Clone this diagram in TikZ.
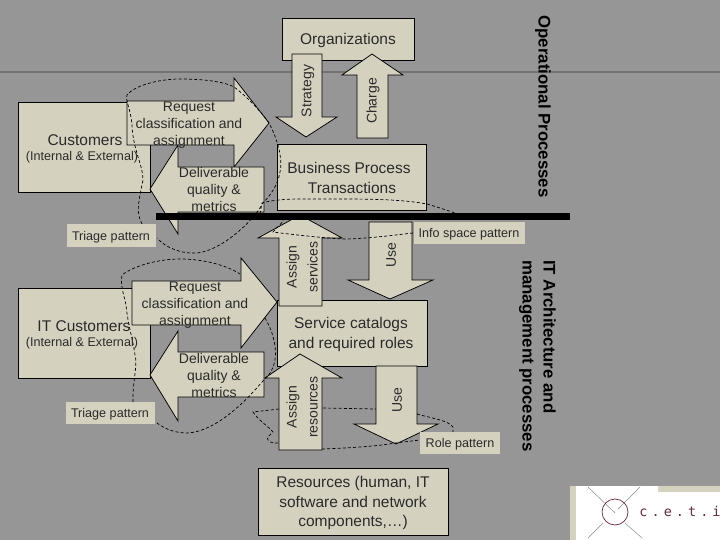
\documentclass[tikz,border=0pt]{standalone}
\usepackage{fontspec}
\setmainfont{Liberation Sans}
\newfontfamily\logofont[LetterSpace=30]{DejaVu Sans Mono}
\definecolor{bgc}{HTML}{969696}
\definecolor{creamc}{HTML}{D4D2BF}
\definecolor{inkc}{HTML}{2A2A2A}
\definecolor{logoc}{HTML}{6A2A40}
\tikzset{
  shapebox/.style={draw=black,fill=creamc,line width=0.75pt,line join=miter},
  lbl/.style={text=inkc,align=center,inner sep=0pt,font=\fontsize{14}{17}\selectfont},
  lblbig/.style={text=inkc,align=center,inner sep=0pt,font=\fontsize{15.5}{20}\selectfont},
  lblsmall/.style={text=inkc,align=center,inner sep=0pt,font=\fontsize{12.6}{15}\selectfont},
  lblside/.style={text=black,align=left,inner sep=0pt,font=\bfseries\fontsize{16.8}{21}\selectfont},
  pat/.style={draw=black,line width=0.7pt,dash pattern=on 3pt off 2.2pt},
}
\begin{document}
\begin{tikzpicture}[x=1pt,y=-1pt]
\useasboundingbox (0,0) rectangle (720,540);
\fill[bgc] (0,0) rectangle (720,540);
\draw[color=black!55,line width=2pt] (0,72) -- (720,72);
% boxes
\draw[shapebox] (18,102) rectangle (150,192);
\draw[shapebox] (18,288) rectangle (150,378);
\draw[shapebox] (282,18) rectangle (414,60);
\draw[shapebox] (277,144) rectangle (426,210);
\draw[shapebox] (277,300) rectangle (427,366);
\draw[shapebox] (258,468) rectangle (448,535);
% block arrows
\draw[shapebox] (127,101) -- (234,101) -- (234,78) -- (269,123) -- (234,167) -- (234,145) -- (127,145) -- cycle;
\draw[shapebox] (150,189) -- (178,145) -- (178,167) -- (264,167) -- (264,212) -- (178,212) -- (178,234) -- cycle;
\draw[shapebox] (132,281) -- (241,281) -- (241,258) -- (277,302) -- (241,348) -- (241,325) -- (132,325) -- cycle;
\draw[shapebox] (150,375) -- (178,331) -- (178,352) -- (264,352) -- (264,397) -- (178,397) -- (178,421) -- cycle;
\draw[shapebox] (292,54) -- (322,54) -- (322,117) -- (337,117) -- (306,137) -- (276,117) -- (292,117) -- cycle;
\draw[shapebox] (357,138) -- (388,138) -- (388,75) -- (403,75) -- (372,54) -- (342,75) -- (357,75) -- cycle;
\draw[shapebox] (279,306) -- (322,306) -- (322,238) -- (342,238) -- (300,215) -- (258,238) -- (279,238) -- cycle;
\draw[shapebox] (369,222) -- (412,222) -- (412,280) -- (433,280) -- (390,299) -- (348,280) -- (369,280) -- cycle;
\draw[shapebox] (279,450) -- (322,450) -- (322,378) -- (342,378) -- (300,354) -- (265,378) -- (279,378) -- cycle;
\draw[shapebox] (376,366) -- (417,366) -- (417,424) -- (438,424) -- (396,444) -- (354,424) -- (376,424) -- cycle;
% heavy bar
\fill[black] (156,213) rectangle (570,220);
% pattern tags
\fill[creamc] (67,224) rectangle (156,247);
\fill[creamc] (66,402) rectangle (155,424);
\fill[creamc] (414,222) rectangle (525,244);
\fill[creamc] (420,432) rectangle (500,454);
% dashed pattern outlines
\draw[pat] (142,224) .. controls (136,212) and (138,205) .. (143,180) .. controls (143,165) and (133,150) .. (132,125) .. controls (131,110) and (125,100) .. (127,95) .. controls (135,85) and (160,79) .. (180,79) .. controls (205,79) and (225,82) .. (234,87) .. controls (245,95) and (260,110) .. (269,123) .. controls (278,140) and (283,160) .. (280,172) .. controls (278,185) and (270,196) .. (262,204) .. controls (258,215) and (225,250) .. (197,253) .. controls (180,254) and (165,247) .. (157,238);
\draw[pat] (133,402) .. controls (132,385) and (138,365) .. (135,355) .. controls (133,340) and (128,325) .. (126,305) .. controls (124,295) and (120,285) .. (122,275) .. controls (135,265) and (160,259) .. (180,259) .. controls (205,259) and (228,266) .. (240,274);
\draw[pat] (265,318) .. controls (272,330) and (277,345) .. (275,360) .. controls (272,375) and (265,378) .. (262,382) .. controls (245,402) and (215,432) .. (187,433) .. controls (175,433) and (165,429) .. (157,423);
\draw[pat] (413,233) .. controls (395,235) and (365,239) .. (343,239) .. controls (325,238) and (295,235) .. (273,232) .. controls (278,226) and (282,224) .. (283,220);
\draw[pat] (260,214) -- (262,203) .. controls (280,198) and (300,199) .. (340,199) .. controls (380,199) and (405,200) .. (427,204) .. controls (440,208) and (450,211) .. (460,215) -- (460,220);
\draw[pat] (279,409) -- (253,412) .. controls (258,420) and (268,426) .. (273,432) .. controls (270,435) and (266,438) .. (268,440) .. controls (270,443) and (274,443) .. (279,443);
\draw[pat] (323,408) -- (376,409);
\draw[pat] (417,414) .. controls (430,418) and (448,420) .. (453,427) -- (453,432);
\draw[pat] (322,449) .. controls (350,448) and (380,446) .. (395,443) -- (420,440);
% labels
\node[lblbig] (orgs) at (348,40) {Organizations};
\node[lblbig] (bpt) at (349,177.5) {Business Process\\\hspace*{6pt}Transactions};
\node[lblbig] (scr) at (351,334) {Service catalogs\\and required roles};
\node[lblbig,font=\fontsize{15.5}{19.3}\selectfont] (res) at (353,503) {Resources (human, IT\\software and network\\components,\dots)};
\node[lblbig] (cust) at (85,140) {Customers};
\node[lblsmall] (cust2) at (82,157) {(Internal \& External)};
\node[lblbig] (itcust) at (84,326) {IT Customers};
\node[lblsmall] (itcust2) at (82,343) {(Internal \& External)};
\node[lbl] (req1) at (189,125) {Request\\classification and\\assignment};
\node[lbl] (del1) at (214,189) {Deliverable\\quality \&\\metrics};
\node[lbl] (req2) at (195,305) {Request\\classification and\\assignment};
\node[lbl] (del2) at (214,375) {Deliverable\\quality \&\\metrics};
\node[lbl,rotate=90] (strat) at (308,91) {Strategy};
\node[lbl,rotate=90] (charge) at (373,101) {Charge};
\node[lbl,rotate=90,font=\fontsize{14}{21}\selectfont] (as1) at (302,267) {Assign\\services};
\node[lbl,rotate=90,font=\fontsize{14}{21}\selectfont] (as2) at (302,407) {Assign\\resources};
\node[lbl,rotate=90] (use1) at (391,255) {Use};
\node[lbl,rotate=90] (use2) at (397,400) {Use};
\node[lblsmall] (t1) at (111,237) {Triage pattern};
\node[lblsmall] (t2) at (110,414) {Triage pattern};
\node[lblsmall] (info) at (469,234) {Info space pattern};
\node[lblsmall] (role) at (460,444) {Role pattern};
\node[lblside,rotate=-90] (op) at (543,106.5) {Operational Processes};
\node[lblside,rotate=-90] (itarch) at (537.5,356) {IT Architecture and\\management processes};
% logo
\fill[creamc] (570,486) rectangle (720,540);
\fill[white] (576,486) -- (658,486) -- (658,492) -- (720,492) -- (720,540) -- (576,540) -- cycle;
\draw[black!45,line width=0.5pt] (588,487) -- (615,513) (640,487) -- (618,509) (603,523) -- (588,538) (625,523) -- (642,538);
\draw[logoc,line width=0.7pt] (615,512) circle (13);
\node[text=logoc,inner sep=0pt,font=\logofont\fontsize{13.5}{13.5}\selectfont] (ceti) at (680,511) {c.e.t.i};
\end{tikzpicture}
\end{document}
